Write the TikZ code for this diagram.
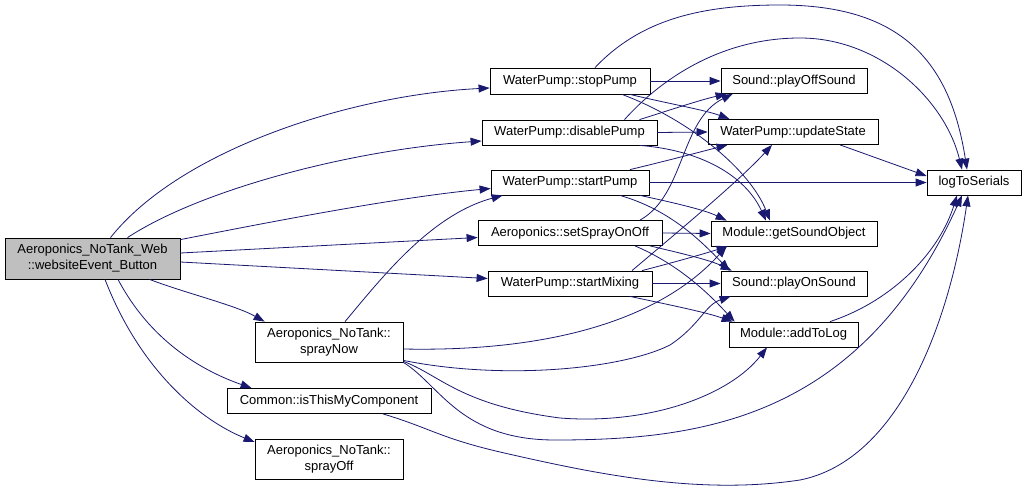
\documentclass[tikz,border=0pt]{standalone}
\usepackage{fontspec}
\setmainfont{Liberation Sans}
\usetikzlibrary{arrows.meta,calc}
\definecolor{edgeblue}{RGB}{25,25,112}
\definecolor{rootgray}{RGB}{191,191,191}
\begin{document}
\begin{tikzpicture}[x=1pt,y=-1pt,
  fn/.style={draw=black, line width=0.8pt, inner sep=0pt, align=center, font=\fontsize{13}{16}\selectfont, fill=white, minimum height=25pt},
  call/.style={draw=edgeblue, line width=0.8pt, -{Triangle[length=11pt,width=8pt]}}]
\fill[white] (0,0) rectangle (1027,492);
\useasboundingbox (0,0) rectangle (1027,492);
% nodes
\node[fn, minimum width=175pt, minimum height=41pt, fill=rootgray] (root) at (92.5,258.5) {Aeroponics\_NoTank\_Web\\::websiteEvent\_Button};
\node[fn, minimum width=160pt, minimum height=26pt] (stop) at (570,81) {WaterPump::stopPump};
\node[fn, minimum width=175pt] (disable) at (569.5,132.5) {WaterPump::disablePump};
\node[fn, minimum width=158pt] (start) at (570,182.5) {WaterPump::startPump};
\node[fn, minimum width=184pt] (setspray) at (570,233) {Aeroponics::setSprayOnOff};
\node[fn, minimum width=164pt] (mixing) at (570,283.5) {WaterPump::startMixing};
\node[fn, minimum width=148pt, minimum height=40pt] (spraynow) at (329,342) {Aeroponics\_NoTank::\\sprayNow};
\node[fn, minimum width=204pt] (isthis) at (329,401) {Common::isThisMyComponent};
\node[fn, minimum width=148pt, minimum height=40pt] (sprayoff) at (329,459) {Aeroponics\_NoTank::\\sprayOff};
\node[fn, minimum width=146pt] (playoff) at (794,81) {Sound::playOffSound};
\node[fn, minimum width=170pt] (update) at (793,132) {WaterPump::updateState};
\node[fn, minimum width=166pt] (getsound) at (794,233.5) {Module::getSoundObject};
\node[fn, minimum width=146pt] (playon) at (794,283.5) {Sound::playOnSound};
\node[fn, minimum width=129pt] (addlog) at (793.5,334.5) {Module::addToLog};
\node[fn, minimum width=94pt] (log) at (974,182.5) {logToSerials};
% root calls
\draw[call] ($(root.north)+(18,0)$) .. controls (180,150) and (350,95) .. ($(stop.west)+(0,7)$);
\draw[call] ($(root.north)+(35,0)$) .. controls (200,190) and (350,150) .. ($(disable.west)+(0,8.5)$);
\draw[call] ($(root.north east)+(0,2)$) .. controls (280,220) and (400,197) .. ($(start.west)+(0,6)$);
\draw[call] ($(root.east)+(0,-5.5)$) -- ($(setspray.west)+(0,4.5)$);
\draw[call] ($(root.east)+(0,3.5)$) -- ($(mixing.west)+(0,-5)$);
\draw[call] ($(root.south)+(57,0)$) .. controls (185,293) and (235,305) .. ($(spraynow.north west)+(10,0)$);
\draw[call] ($(root.south)+(25.5,0)$) .. controls (150,340) and (200,370) .. ($(isthis.north west)+(25,0)$);
\draw[call] ($(root.south)+(12.5,0)$) .. controls (140,370) and (200,420) .. ($(sprayoff.west)+(0,-17)$);
% stopPump
\draw[call] (stop.east) -- (playoff.west);
\draw[call] ($(stop.north)+(25,0)$) .. controls (640,20) and (700,5) .. (780,5) .. controls (900,5) and (950,60) .. ($(log.north)+(-7,0)$);
\draw[call] ($(stop.south)+(60,0)$) .. controls (670,104) and (705,110) .. ($(update.north west)+(22,0)$);
\draw[call] ($(stop.south)+(52,0)$) .. controls (690,120) and (750,170) .. ($(getsound.north)+(-24,0)$);
% disablePump
\draw[call] ($(disable.north)+(70,0)$) .. controls (670,110) and (700,100) .. ($(playoff.south west)+(6,0)$);
\draw[call] (disable.east) -- (update.west);
\draw[call] ($(disable.north)+(55,0)$) .. controls (660,80) and (720,38) .. (800,38) .. controls (880,38) and (945,100) .. ($(log.north)+(-12,0)$);
\draw[call] ($(disable.south)+(70,0)$) .. controls (700,150) and (745,175) .. ($(getsound.north)+(-28,0)$);
% startPump
\draw[call] (start.east) -- (log.west);
\draw[call] ($(start.north)+(60,0)$) .. controls (670,160) and (700,152) .. ($(update.south west)+(20,0)$);
\draw[call] ($(start.south)+(70,0)$) .. controls (675,203) and (705,210) .. ($(getsound.north west)+(16,0)$);
\draw[call] ($(start.south)+(50,0)$) .. controls (670,210) and (700,240) .. ($(playon.north west)+(9,0)$);
% setSprayOnOff
\draw[call] (setspray.east) -- (getsound.west);
\draw[call] ($(setspray.north)+(70,0)$) .. controls (685,195) and (680,120) .. ($(playoff.south west)+(12,0)$);
\draw[call] ($(setspray.south)+(80,0)$) .. controls (680,253) and (710,260) .. ($(playon.north west)+(11,0)$);
\draw[call] ($(setspray.south)+(65,0)$) .. controls (680,265) and (710,295) .. ($(addlog.north west)+(6,0)$);
% startMixing
\draw[call] (mixing.east) -- (playon.west);
\draw[call] ($(mixing.north)+(62,0)$) .. controls (680,230) and (740,180) .. ($(update.south)+(-21,0)$);
\draw[call] ($(mixing.north)+(72,0)$) .. controls (675,262) and (700,255) .. ($(getsound.south west)+(17,0)$);
\draw[call] ($(mixing.south)+(60,0)$) .. controls (670,305) and (705,312) .. ($(addlog.north west)+(4,0)$);
% sprayNow
\draw[call] ($(spraynow.north)+(16,0)$) .. controls (380,280) and (430,215) .. ($(start.south west)+(12,0)$);
\draw[call] ($(spraynow.east)+(0,7)$) .. controls (550,352) and (660,320) .. ($(getsound.south west)+(16,0)$);
\draw[call] ($(spraynow.south east)+(0,-2)$) .. controls (500,380) and (620,370) .. (670,345) .. controls (700,325) and (705,305) .. ($(playon.south west)+(10,0)$);
\draw[call] ($(spraynow.south east)+(0,-1)$) .. controls (440,375) and (460,405) .. (560,418) .. controls (650,425) and (730,395) .. ($(addlog.south)+(-26.5,0)$);
\draw[call] (spraynow.south east) .. controls (440,385) and (460,440) .. (555,440) .. controls (700,440) and (860,420) .. ($(log.south)+(-12,0)$);
% isThisMyComponent
\draw[call] ($(isthis.south)+(54,0)$) .. controls (430,428) and (440,438) .. (500,452) .. controls (600,475) and (700,495) .. (800,480) .. controls (900,460) and (950,320) .. ($(log.south)+(-6,0)$);
% leaves to logToSerials
\draw[call] ($(update.south)+(47,0)$) -- ($(log.west)+(0,-6.5)$);
\draw[call] ($(addlog.north)+(36.5,0)$) .. controls (895,300) and (940,250) .. ($(log.south)+(-17,0)$);
\end{tikzpicture}
\end{document}
